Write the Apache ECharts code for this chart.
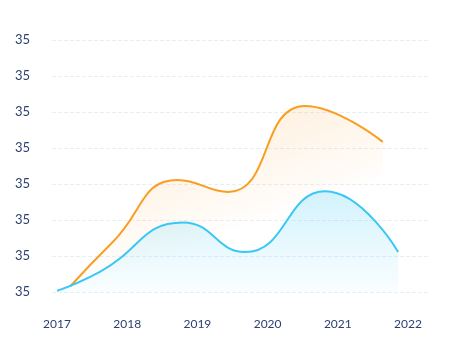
<!DOCTYPE html>
<html>
<head>
<meta charset="utf-8">
<script src="https://cdn.jsdelivr.net/npm/echarts@6/dist/echarts.min.js"></script>
<style>html,body{margin:0;padding:0;background:#fff;}#c{width:452px;height:348px;}</style>
</head>
<body>
<div id="c"></div>
<script>
const xLabels = ['2017', '2018', '2019', '2020', '2021', '2022'];
const yLabels = ['35', '35', '35', '35', '35', '35', '35', '35'];
const cyanX = [2017.0, 2017.61, 2018.8, 2019.68, 2020.82, 2021.86];
const cyanY = [0.03, 0.56, 1.93, 1.11, 2.8, 1.11];
const orangeX = [2017.19, 2017.78, 2018.72, 2019.44, 2020.53, 2021.64];
const orangeY = [0.16, 1.36, 3.11, 2.78, 5.17, 4.17];

const textColor = '#2e3f6f';
const font = 'Lato';
const chart = echarts.init(document.getElementById('c'));
chart.setOption({
  animation: false,
  grid: [
    { left: 52, right: 24, top: 40, bottom: 56 },
    { left: 57, right: 44, top: 40, bottom: 56 }
  ],
  xAxis: [
    { gridIndex: 0, type: 'value', show: false, min: 0, max: 1 },
    {
      gridIndex: 1, type: 'value', min: 2017, max: 2022, interval: 1,
      axisLine: { show: false }, axisTick: { show: false }, splitLine: { show: false },
      axisLabel: { formatter: v => xLabels[Math.round(v - 2017)] || '', color: textColor, fontSize: 12, fontFamily: font, margin: 26 }
    }
  ],
  yAxis: [
    {
      gridIndex: 0, type: 'value', min: 0, max: 7, interval: 1,
      axisLine: { show: false }, axisTick: { show: false },
      splitLine: { lineStyle: { type: 'dashed', color: '#e9eff6', width: 1 } },
      axisLabel: { formatter: v => yLabels[Math.round(v)] || '', color: textColor, fontSize: 13, fontFamily: font, margin: 22, padding: [9, 0, 0, 0] }
    },
    { gridIndex: 1, type: 'value', min: 0, max: 7, show: false }
  ],
  series: [
    {
      type: 'line', xAxisIndex: 1, yAxisIndex: 1, smooth: true, showSymbol: false,
      data: orangeX.map((x, i) => [x, orangeY[i]]),
      lineStyle: { color: '#f89f22', width: 2 },
      itemStyle: { color: '#f89f22' },
      areaStyle: {
        color: new echarts.graphic.LinearGradient(0, 0, 0.18, 0.88, [
          { offset: 0, color: 'rgba(250,165,60,0.36)' },
          { offset: 0.85, color: 'rgba(250,165,60,0.07)' },
          { offset: 1, color: 'rgba(250,165,60,0)' }
        ])
      }
    },
    {
      type: 'line', xAxisIndex: 1, yAxisIndex: 1, smooth: true, showSymbol: false,
      data: cyanX.map((x, i) => [x, cyanY[i]]),
      lineStyle: { color: '#3ac7f5', width: 2 },
      itemStyle: { color: '#3ac7f5' },
      areaStyle: {
        color: new echarts.graphic.LinearGradient(0, 0, 0, 1, [
          { offset: 0, color: 'rgba(58,199,245,0.32)' },
          { offset: 1, color: 'rgba(58,199,245,0.04)' }
        ])
      }
    }
  ]
});
</script>
</body>
</html>
